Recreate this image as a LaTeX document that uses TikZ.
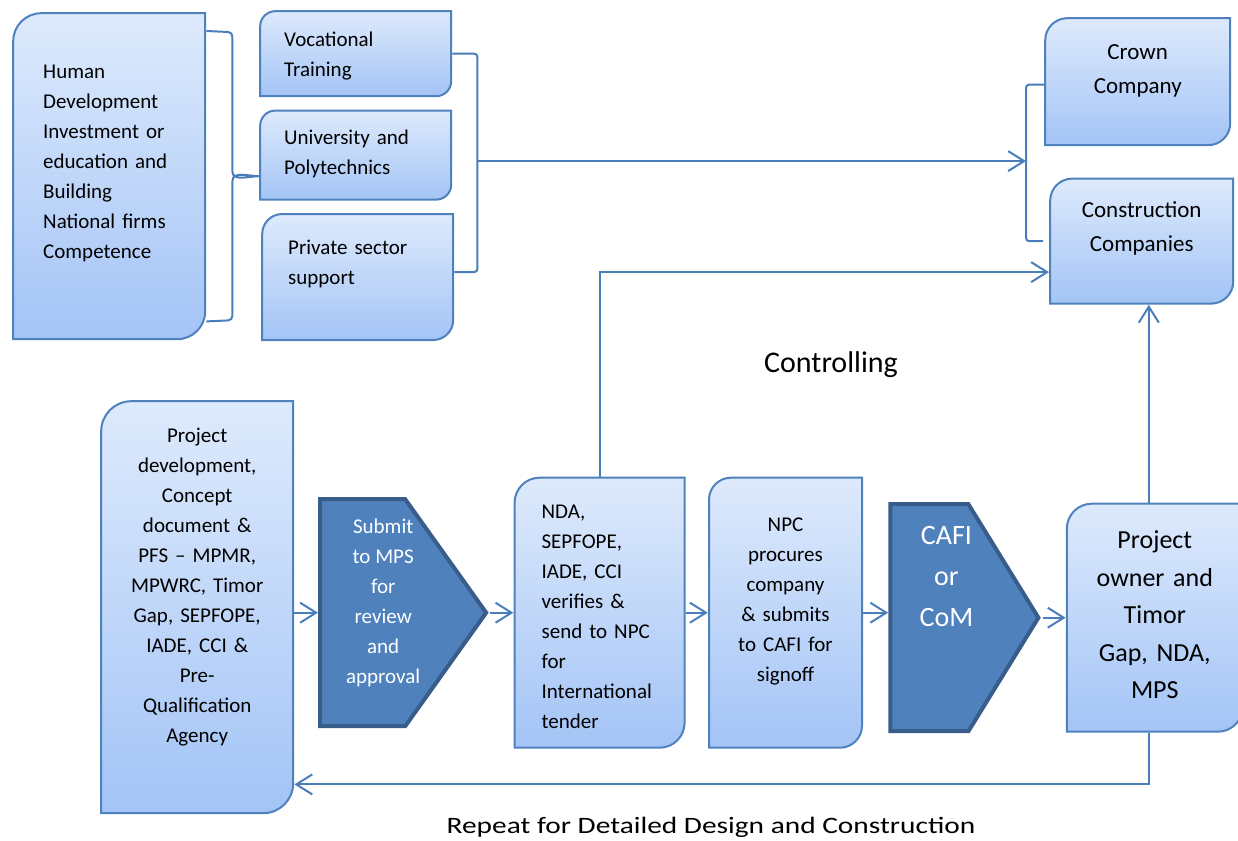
\documentclass[tikz,border=0pt]{standalone}
\usepackage{fontspec}
\setmainfont{Carlito}
\usepackage{graphicx}
\usetikzlibrary{positioning}
\usetikzlibrary{arrows.meta}

\definecolor{boxtop}{RGB}{222,234,252}
\definecolor{boxbot}{RGB}{163,196,246}
\definecolor{boxline}{RGB}{79,129,189}
\definecolor{linkcol}{RGB}{74,126,187}
\definecolor{tipfill}{RGB}{79,129,189}
\definecolor{tipline}{RGB}{56,93,138}

% centred lines in the body of a pentagon, then the room left for its point
\newcommand{\tipbody}[3]{\parbox[t]{#1}{\centering #3}\kern#2\relax}

\begin{document}
\begin{tikzpicture}[x=1pt, y=1pt, node distance = 22pt,
	>={Straight Barb[length=16pt,width=20pt]},
	body/.style = {font=\fontsize{21}{30}\selectfont},
	dims/.style n args = {3}{text width=#1, text height=#2, text depth=#3},
	softbox/.style = {rectangle, inner xsep=10pt, inner ysep=0pt, align=center, body,
		path picture={
			\path[top color=boxtop, bottom color=boxbot, draw=boxline, line width=2pt]
			([shift={(1pt,-1pt-#1)}]path picture bounding box.north west)
			arc[start angle=180, end angle=90, radius=#1]
			-- ([shift={(-1pt,-1pt)}]path picture bounding box.north east)
			-- ([shift={(-1pt,1pt+#1)}]path picture bounding box.south east)
			arc[start angle=0, end angle=-90, radius=#1]
			-- ([shift={(1pt,1pt)}]path picture bounding box.south west)
			-- cycle;}},
	softbox/.default = 22pt,
	tipbox/.style = {rectangle, inner sep=0pt, text=white,
		path picture={
			\path[fill=tipfill, draw=tipline, line width=4pt]
			([shift={(2pt,-2pt)}]path picture bounding box.north west)
			-- ([shift={(-#1,-2pt)}]path picture bounding box.north east)
			-- ([xshift=-4pt]path picture bounding box.east)
			-- ([shift={(-#1,2pt)}]path picture bounding box.south east)
			-- ([shift={(2pt,2pt)}]path picture bounding box.south west)
			-- cycle;}},
	link/.style = {draw=linkcol, line width=2pt},
	note/.style = {font=\fontsize{30}{36}\selectfont, inner sep=0pt}]
	
	\useasboundingbox (0,0) rectangle (1238,-840);
	
	% top left: human development and its three pillars
	\node (human) [softbox=28pt, dims={132pt}{66pt}{262pt}, inner xsep=31pt, align=left, anchor=north west] at (12,-12)
		{Human\\Development\\Investment or\\education and\\Building\\National firms\\Competence};
	\node (voc)  [softbox=15pt, dims={143pt}{36pt}{51pt}, inner xsep=25pt, align=left, anchor=north west] at (259,-10) {Vocational\\Training};
	\node (uni)  [softbox=15pt, dims={143pt}{35pt}{56pt}, inner xsep=25pt, align=left, below=12pt of voc] {University and\\Polytechnics};
	\node (priv) [softbox=20pt, dims={139pt}{41pt}{87pt}, inner xsep=27pt, align=left, below=12pt of uni, xshift=2pt] {Private sector\\support};
	
	% top right: companies
	\node (crown)  [softbox, dims={167pt}{42pt}{87pt}, font=\fontsize{23}{34}\selectfont, anchor=north west] at (1044,-17) {Crown\\Company};
	\node (constr) [softbox, dims={165pt}{40pt}{87pt}, font=\fontsize{23}{34}\selectfont, below=31pt of crown, xshift=4pt] {Construction\\Companies};
	
	% bottom row: project cycle
	\node (projdev) [softbox=30pt, dims={174pt}{42pt}{372pt}, anchor=north west] at (100,-400)
		{Project\\development,\\Concept\\document \&\\PFS -- MPMR,\\MPWRC, Timor\\Gap, SEPFOPE,\\IADE, CCI \&\\Pre-\\Qualification\\Agency};
	\node (submit) [tipbox=85pt, text height=36pt, text depth=195pt, body, anchor=north west] at (318,-497)
		{\tipbody{130pt}{42pt}{Submit\\to MPS\\for\\review\\and\\approval}};
	\node (nda)    [softbox=25pt, dims={116pt}{42pt}{230pt}, inner xsep=28pt, align=left, right=23pt of submit]
		{NDA,\\SEPFOPE,\\IADE, CCI\\verifies \&\\send to NPC\\for\\International\\tender};
	\node (npc)    [softbox, dims={135pt}{55pt}{217pt}, right=of nda]
		{NPC\\procures\\company\\\& submits\\to CAFI for\\signoff};
	\node (cafi)   [tipbox=74pt, text height=42pt, text depth=189pt, font=\fontsize{28}{41}\selectfont, right=25pt of npc, yshift=-5pt]
		{\tipbody{116pt}{38pt}{CAFI\\or\\CoM}};
	\node (owner)  [softbox=25pt, dims={158pt}{46pt}{184pt}, font=\fontsize{26}{37.5}\selectfont, right=23pt of cafi]
		{Project\\owner and\\Timor\\Gap, NDA,\\MPS};
	
	% helper points
	\coordinate (Brace) at ([xshift=26pt]human.east);
	\coordinate (Knot) at ([xshift=25pt,yshift=-6pt]uni.east);
	\coordinate [xshift=-18pt] (Fork) at (Knot -| crown.west);
	\coordinate (Riser) at ([xshift=-6pt]owner.north);
	\coordinate (Drop) at ([xshift=-6pt]owner.south);
	
	% brackets
	\draw [link] ([yshift=-19pt]human.north east) -- ([xshift=22pt,yshift=-20pt]human.north east)
		to[out=0,in=90] ([xshift=26pt,yshift=-25pt]human.north east)
		-- ([yshift=5pt]Brace) to[out=-90,in=180] (Brace -| uni.west)
		to[out=180,in=90] ([yshift=-5pt]Brace)
		-- ([xshift=26pt,yshift=25pt]human.south east)
		to[out=-90,in=0] ([xshift=22pt,yshift=20pt]human.south east)
		-- ([yshift=19pt]human.south east);
	\draw [link, rounded corners=3pt] (voc.east) -| (Knot) |- ([yshift=5pt]priv.east);
	\draw [link, rounded corners=3pt] ([yshift=-3pt]crown.west) -| (Fork) |- ([xshift=-6pt]constr.west);
	
	% connections
	\draw [link, ->] (Knot) -- (Fork);
	\draw [link, ->] (nda.north) |- ([yshift=-31pt]constr.west);
	\draw [link, ->] (Riser) -- (Riser |- constr.south);
	\draw [link, ->] (Drop) |- ([yshift=30pt]projdev.south east);
	\draw [link, ->] (projdev.east |- submit.west) -- (submit.west);
	\draw [link, ->] (submit.east) -- (submit.east -| nda.west);
	\draw [link, ->] (nda.east) -- (nda.east -| npc.west);
	\draw [link, ->] (npc.east) -- (npc.east -| cafi.west);
	\draw [link, ->] (cafi.east) -- (cafi.east -| owner.west);
	
	% labels
	\node (ctrl) [note, anchor=base] at (831,-372) {Controlling};
	\node (again) [note, font=\fontsize{23.5}{28}\selectfont, anchor=base] at (711,-833)
		{\scalebox{1.25}[1]{Repeat for Detailed Design and Construction}};
\end{tikzpicture}
\end{document}
